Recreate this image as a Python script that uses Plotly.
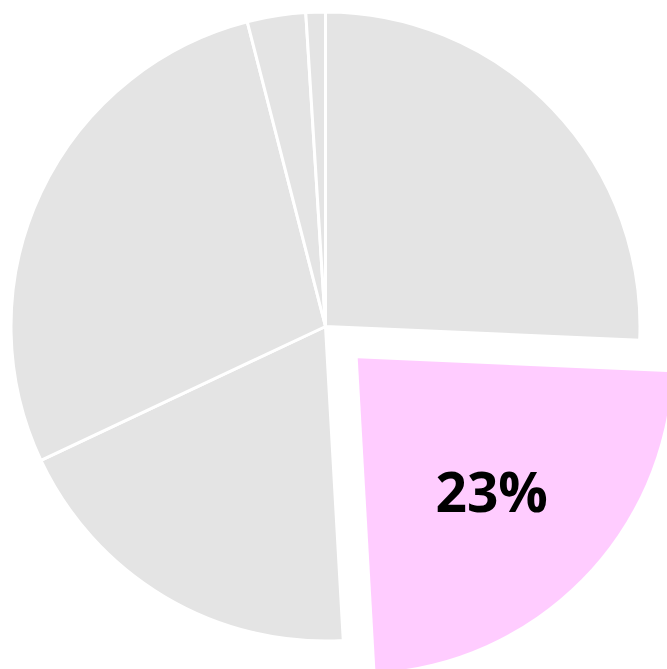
import math
import plotly.graph_objects as go

# ---- data ----
categories = ["A", "B", "C", "D", "E", "F"]
values = [25.7, 23.4, 18.9, 28.0, 3.0, 1.0]
highlight = "B"

# ---- style ----
GREY = "#E4E4E4"
PINK = "#FFCCFF"
W, H = 680, 680
CX, CY, R = 325.5, 326.5, 314.5      # pie centre / radius in px
PULL = 0.144                          # pull of highlighted slice (fraction of R)

hi = categories.index(highlight)
total = sum(values)
start = sum(values[:hi])
mid = (start + values[hi] / 2) / total * 2 * math.pi   # clockwise from 12 o'clock
dx = PULL * R * math.sin(mid)
dy = -PULL * R * math.cos(mid)   # downward in px


def dom(cx, cy):
    return dict(x=[(cx - R) / W, (cx + R) / W],
                y=[1 - (cy + R) / H, 1 - (cy - R) / H])


base_colors = [("rgba(0,0,0,0)" if c == highlight else GREY) for c in categories]
base_lines = [("rgba(0,0,0,0)" if c == highlight else "white") for c in categories]
hi_colors = [(PINK if c == highlight else "rgba(0,0,0,0)") for c in categories]
hi_templates = [("<b>%{percent:.0%}</b>" if c == highlight else "") for c in categories]

fig = go.Figure()
fig.add_trace(go.Pie(
    labels=categories, values=values, sort=False, direction="clockwise", rotation=0,
    marker=dict(colors=base_colors, line=dict(color=base_lines, width=3)),
    textinfo="none", hoverinfo="skip", showlegend=False,
    domain=dom(CX, CY),
))
fig.add_trace(go.Pie(
    labels=categories, values=values, sort=False, direction="clockwise", rotation=0,
    marker=dict(colors=hi_colors, line=dict(width=0)),
    texttemplate=hi_templates, textposition="inside", insidetextorientation="horizontal",
    textfont=dict(family="Open Sans", size=55, color="black", weight=700),
    hoverinfo="skip", showlegend=False,
    domain=dom(CX + dx, CY + dy),
))
fig.update_layout(
    width=W, height=H, margin=dict(l=0, r=0, t=0, b=0),
    paper_bgcolor="white", plot_bgcolor="white", showlegend=False,
)
fig.write_html(
    "out.html",
    config={"displayModeBar": False},
    post_script="document.body.style.margin='0';document.body.style.overflow='hidden';"
                "document.documentElement.style.overflow='hidden';",
)
